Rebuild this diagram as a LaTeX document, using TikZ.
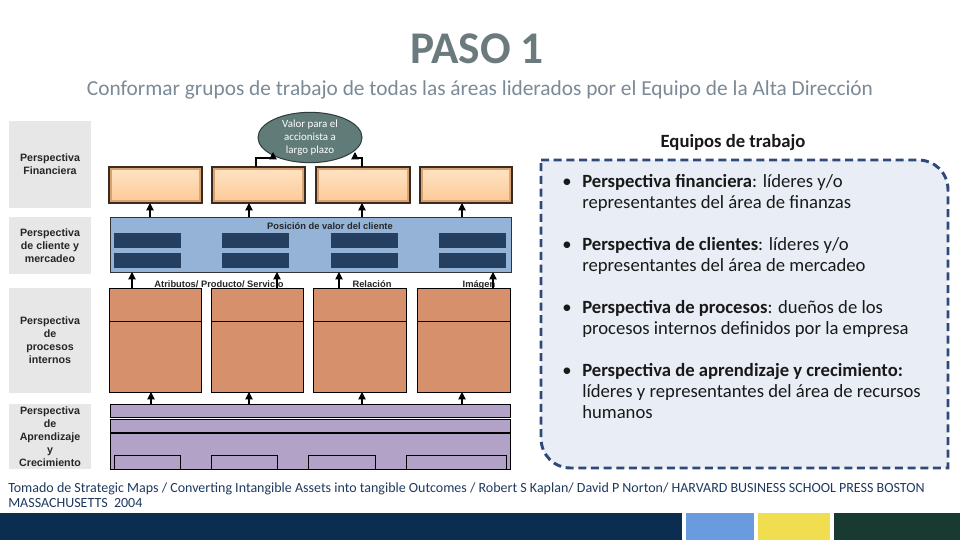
\documentclass[tikz,border=0pt]{standalone}
\usepackage{fontspec}
\setmainfont{Carlito}
\newfontfamily\arialf{Liberation Sans}
\usetikzlibrary{shapes.geometric,arrows.meta}
\definecolor{titgray}{HTML}{6B7A7D}
\definecolor{subgray}{HTML}{7B8A96}
\definecolor{labgray}{HTML}{E7E7E7}
\definecolor{peach}{HTML}{FCCB9A}
\definecolor{peachedge}{HTML}{D9A070}
\definecolor{peachhi}{HTML}{FFE2C2}
\definecolor{boxbrd}{HTML}{3B2B1E}
\definecolor{ellfill}{HTML}{607B78}
\definecolor{ellbrd}{HTML}{2E3B3B}
\definecolor{bandblue}{HTML}{95B3D7}
\definecolor{barnavy}{HTML}{243F60}
\definecolor{terra}{HTML}{D6906B}
\definecolor{lilac}{HTML}{B2A2C7}
\definecolor{dashbrd}{HTML}{2F4A78}
\definecolor{panel}{HTML}{E9EEF6}
\definecolor{foot}{HTML}{1F3A60}
\definecolor{navy}{HTML}{0B2E50}
\definecolor{ltblue}{HTML}{6A9BDE}
\definecolor{yel}{HTML}{F0DE50}
\definecolor{dkgreen}{HTML}{183A30}
\newcommand\mkbox[6]{\node[#6,inner sep=0pt,outer sep=0pt,minimum width={(#4-#2)*0.75pt},minimum height={(#5-#3)*0.75pt}] (#1) at ({(#2+#4)/2},{(#3+#5)/2}) {};}
\begin{document}
\begin{tikzpicture}[x=0.75pt,y=-0.75pt,
  labbox/.style={fill=labgray},
  labtxt/.style={font=\arialf\bfseries\fontsize{8}{9.7}\selectfont,align=center,inner sep=0pt,text=black!85},
  finbox/.style={fill=peachedge,draw=boxbrd,line width=0.9pt},
  band/.style={fill=bandblue,draw=black!80,line width=0.75pt},
  bar/.style={fill=barnavy},
  proc/.style={fill=terra,draw=black,line width=0.75pt},
  purp/.style={fill=lilac,draw=black,line width=0.75pt},
  arr/.style={-{Triangle[length=5.5pt,width=5.5pt]},line width=0.8pt},
  small/.style={font=\arialf\bfseries\fontsize{7}{8}\selectfont,inner sep=0pt,text=black!85},
  rtxt/.style={font=\fontsize{14}{15.6}\selectfont,anchor=base west,inner sep=0pt,text=black!90},
  foottxt/.style={font=\fontsize{10.5}{12}\selectfont,anchor=base west,inner sep=0pt,text=foot}]
\useasboundingbox (0,0) rectangle (960,540);
\fill[white] (0,0) rectangle (960,540);

% title
\node[font=\bfseries\fontsize{34}{40}\selectfont,text=titgray,anchor=base,inner sep=0pt] (title) at (477,63) {PASO 1};
\node[font=\fontsize{16}{18}\selectfont,text=subgray,anchor=base,inner sep=0pt] (sub) at (480,95) {Conformar grupos de trabajo de todas las áreas liderados por el Equipo de la Alta Dirección};

% left labels
\mkbox{l1}{9}{121}{91}{208}{labbox}
\mkbox{l2}{9}{217}{91}{274}{labbox}
\mkbox{l3}{9}{288}{91}{393}{labbox}
\mkbox{l4}{9}{404}{91}{469}{labbox}
\node[labtxt] (l1t) at (l1) {Perspectiva\\Financiera};
\node[labtxt] (l2t) at (l2) {Perspectiva\\de cliente y\\mercadeo};
\node[labtxt] (l3t) at (l3) {Perspectiva\\de\\procesos\\internos};
\node[labtxt] (l4t) at (l4) {Perspectiva\\de\\Aprendizaje\\y\\Crecimiento};

% financial row
\mkbox{f1}{109}{167}{202}{203}{finbox}
\mkbox{f2}{212}{167}{305}{203}{finbox}
\mkbox{f3}{316}{167}{410}{203}{finbox}
\mkbox{f4}{420}{167}{512}{203}{finbox}
\foreach \f in {f1,f2,f3,f4}{
  \fill[top color=peachhi,bottom color=peach] ([shift={(3,3)}]\f.north west) rectangle ([shift={(-3,-4)}]\f.south east);
  \draw[boxbrd,line width=0.9pt] (\f.north west) rectangle (\f.south east);
}
\node[ellipse,draw=ellbrd,fill=ellfill,line width=0.75pt,minimum width=78pt,minimum height=29.5pt,inner sep=0pt,text=white,font=\fontsize{8.2}{9.8}\selectfont,align=center] (ell) at (310,137.5) {Valor para el\\accionista a\\largo plazo};
\coordinate (e1) at (273,152);
\coordinate (e2) at (355,152);
\draw[arr] (f2.north -| 256,0) |- (e1 |- 0,158) -- (e1);
\draw[arr] (f3.north -| 362,0) |- (e2 |- 0,158) -- (e2);

% customer band
\mkbox{cb}{110}{217}{511}{272}{band}
\node[small,anchor=base] (cbt) at (330,229) {Posición de valor del cliente};
\foreach \x [count=\i] in {114,222,331,439}{
  \mkbox{ba\i}{\x}{233}{\x+67}{248}{bar}
  \mkbox{bb\i}{\x}{253}{\x+67}{268}{bar}
}
\draw[arr] (cb.north -| 150,0) -- (f1.south -| 150,0);
\draw[arr] (cb.north -| 249,0) -- (f2.south -| 249,0);
\draw[arr] (cb.north -| 362,0) -- (f3.south -| 362,0);
\draw[arr] (cb.north -| 462,0) -- (f4.south -| 462,0);

% process row
\node[small,anchor=base] (at1) at (219,287) {Atributos/ Producto/ Servicio};
\node[small,anchor=base] (at2) at (372,287) {Relación};
\node[small,anchor=base] (at3) at (479,287) {Imágen};
\mkbox{p1}{109}{288}{201}{392}{proc}
\mkbox{p2}{211}{288}{303}{392}{proc}
\mkbox{p3}{313}{288}{406}{392}{proc}
\mkbox{p4}{417}{288}{510}{392}{proc}
\foreach \p in {p1,p2,p3,p4}{
  \draw[line width=0.75pt] (\p.west |- 0,321) -- (\p.east |- 0,321);
}
\draw[arr] (p1.north -| 132,0) -- (cb.south -| 132,0);
\draw[arr] (p2.north -| 277,0) -- (cb.south -| 277,0);
\draw[arr] (p3.north -| 339,0) -- (cb.south -| 339,0);
\draw[arr] (p4.north -| 493,0) -- (cb.south -| 493,0);

% learning
\mkbox{u1}{110}{404}{510}{417}{purp}
\mkbox{u2}{110}{419}{510}{433}{purp}
\mkbox{u3}{110}{433}{510}{469}{purp}
\draw[line width=1.6pt] (u3.north west) -- (u3.north east);
\mkbox{s1}{114}{455}{180}{469}{purp}
\mkbox{s2}{211}{455}{277}{469}{purp}
\mkbox{s3}{308}{455}{375}{469}{purp}
\mkbox{s4}{406}{455}{506}{469}{purp}
\draw[arr] (u1.north -| 151,0) -- (p1.south -| 151,0);
\draw[arr] (u1.north -| 249,0) -- (p2.south -| 249,0);
\draw[arr] (u1.north -| 362,0) -- (p3.south -| 362,0);
\draw[arr] (u1.north -| 462,0) -- (p4.south -| 462,0);

% right panel
\node[font=\bfseries\fontsize{14}{16}\selectfont,anchor=base,inner sep=0pt,text=black!90] (eq) at (733,147) {Equipos de trabajo};
\draw[dashbrd,fill=panel,line width=2.2pt,dash pattern=on 6pt off 3.5pt]
  (541,160) -- (918,160) .. controls (935,160) and (948,173) .. (948,190)
  -- (948,468) -- (571,468) .. controls (554,468) and (541,455) .. (541,438) -- cycle;
\foreach \y in {187,250,313,376}{
  \node[rtxt] at (562,\y) {\textbullet};
}
\node[rtxt] (r1a) at (582,187) {\textbf{Perspectiva financiera}: líderes y/o};
\node[rtxt] (r1b) at (582,208) {representantes del área de finanzas};
\node[rtxt] (r2a) at (582,250) {\textbf{Perspectiva de clientes}: líderes y/o};
\node[rtxt] (r2b) at (582,271) {representantes del área de mercadeo};
\node[rtxt] (r3a) at (582,313) {\textbf{Perspectiva de procesos}: dueños de los};
\node[rtxt] (r3b) at (582,334) {procesos internos definidos por la empresa};
\node[rtxt] (r4a) at (582,376) {\textbf{Perspectiva de aprendizaje y crecimiento:}};
\node[rtxt] (r4b) at (582,397) {líderes y representantes del área de recursos};
\node[rtxt] (r4c) at (582,418) {humanos};

% footer
\node[foottxt] (ft1) at (8,492) {Tomado de Strategic Maps / Converting Intangible Assets into tangible Outcomes / Robert S Kaplan/ David P Norton/ HARVARD BUSINESS SCHOOL PRESS BOSTON};
\node[foottxt] (ft2) at (8,507) {MASSACHUSETTS\ \ 2004};
\fill[navy] (0,513) rectangle (682,540);
\fill[ltblue] (686,513) rectangle (754,540);
\fill[yel] (758,513) rectangle (830,540);
\fill[dkgreen] (834,513) rectangle (960,540);
\end{tikzpicture}
\end{document}
